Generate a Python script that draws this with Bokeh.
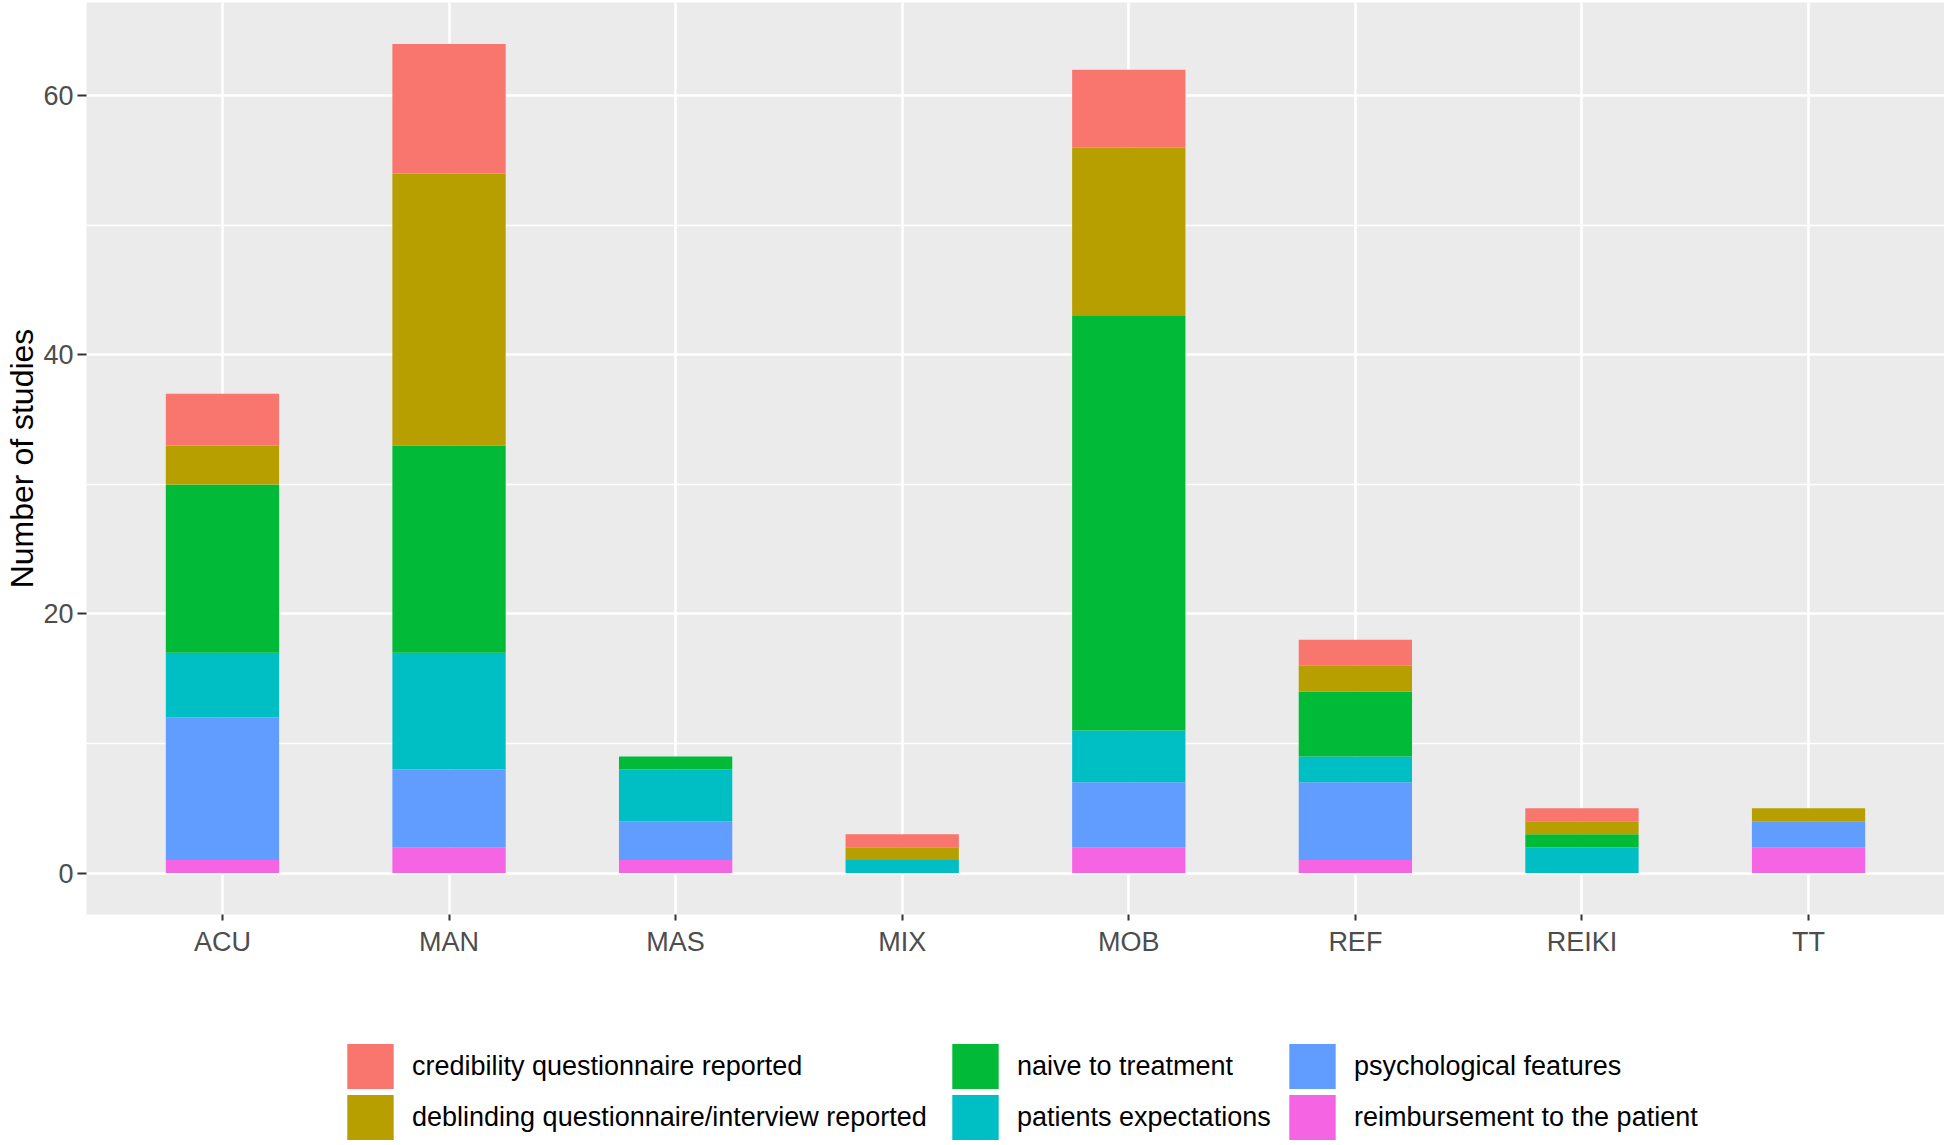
from bokeh.plotting import figure
from bokeh.layouts import column
from bokeh.models import Range1d, FactorRange, FixedTicker, Legend, LegendItem, ColumnDataSource
from bokeh.embed import file_html
from bokeh.resources import INLINE

# ---- data ----
categories = ["ACU", "MAN", "MAS", "MIX", "MOB", "REF", "REIKI", "TT"]
reimbursement = [1, 2, 1, 0, 2, 1, 0, 2]
psychological = [11, 6, 3, 0, 5, 6, 0, 2]
expectations = [5, 9, 4, 1, 4, 2, 2, 0]
naive = [13, 16, 1, 0, 32, 5, 1, 0]
deblinding = [3, 21, 0, 1, 13, 2, 1, 1]
credibility = [4, 10, 0, 1, 6, 2, 1, 0]

y_ticks = [0, 20, 40, 60]
y_minor = [10, 30, 50]

labels = {
    "credibility": "credibility questionnaire reported",
    "deblinding": "deblinding questionnaire/interview reported",
    "naive": "naive to treatment",
    "expectations": "patients expectations",
    "psychological": "psychological features",
    "reimbursement": "reimbursement to the patient",
}
colors = {
    "credibility": "#F8766D",
    "deblinding": "#B79F00",
    "naive": "#00BA38",
    "expectations": "#00BFC4",
    "psychological": "#619CFF",
    "reimbursement": "#F564E3",
}
stack_order = ["reimbursement", "psychological", "expectations", "naive", "deblinding", "credibility"]

source = ColumnDataSource(dict(
    cat=categories,
    reimbursement=reimbursement,
    psychological=psychological,
    expectations=expectations,
    naive=naive,
    deblinding=deblinding,
    credibility=credibility,
))

FONT = "Liberation Sans"
W = 1944
H_TOTAL = 1145
H_MAIN = 980
H_LEG = H_TOTAL - H_MAIN
FRAME_LEFT = 86
FRAME_TOP = 2
FRAME_BOTTOM = 914

x_range = FactorRange(factors=categories, range_padding=0.025, range_padding_units="percent")

p = figure(
    x_range=x_range,
    y_range=Range1d(-3.2, 67.2),
    width=W, height=H_MAIN,
    output_backend="svg", toolbar_location=None,
    min_border_left=FRAME_LEFT, min_border_right=0, min_border_top=FRAME_TOP,
    min_border_bottom=H_MAIN - FRAME_BOTTOM,
)

p.background_fill_color = "#EBEBEB"
p.border_fill_color = "white"
p.outline_line_color = None

p.vbar_stack(
    stack_order, x="cat", width=0.5, source=source,
    fill_color=[colors[k] for k in stack_order], line_color=None,
)

# grid
p.xgrid.grid_line_color = "white"
p.xgrid.grid_line_width = 2.6
p.ygrid.grid_line_color = "white"
p.ygrid.grid_line_width = 2.6
p.ygrid.minor_grid_line_color = "white"
p.ygrid.minor_grid_line_width = 1.3

# y axis
p.yaxis.ticker = FixedTicker(ticks=y_ticks, minor_ticks=y_minor)
p.yaxis.axis_line_color = None
p.yaxis.minor_tick_line_color = None
p.yaxis.major_tick_in = 0
p.yaxis.major_tick_out = 9
p.yaxis.major_tick_line_color = "#333333"
p.yaxis.major_tick_line_width = 2
p.yaxis.major_label_standoff = 4
p.yaxis.major_label_text_font = FONT
p.yaxis.major_label_text_font_size = "27px"
p.yaxis.major_label_text_color = "#4D4D4D"
p.yaxis.axis_label = "Number of studies"
p.yaxis.axis_label_text_font = FONT
p.yaxis.axis_label_text_font_size = "32px"
p.yaxis.axis_label_text_font_style = "normal"
p.yaxis.axis_label_text_color = "black"
p.yaxis.axis_label_standoff = 0

# x axis
p.xaxis.axis_line_color = None
p.xaxis.major_tick_in = 0
p.xaxis.major_tick_out = 6
p.xaxis.major_tick_line_color = "#333333"
p.xaxis.major_tick_line_width = 2
p.xaxis.major_label_standoff = 6
p.xaxis.major_label_text_font = FONT
p.xaxis.major_label_text_font_size = "27px"
p.xaxis.major_label_text_color = "#4D4D4D"

# ---- legend panel (separate figure below the chart) ----
q = figure(
    x_range=x_range, y_range=Range1d(0, 1),
    width=W, height=H_LEG,
    output_backend="svg", toolbar_location=None,
    x_axis_type=None, y_axis_type=None,
    min_border_left=0, min_border_right=0, min_border_top=0, min_border_bottom=0,
)
q.grid.visible = False
q.outline_line_color = None
q.background_fill_color = "white"
q.border_fill_color = "white"

# hidden copies of the series, used only as legend keys
key_renderers = {
    k: q.vbar(x="cat", top=k, width=0.5, source=source,
              fill_color=colors[k], line_color=None, visible=False)
    for k in stack_order
}

# legend grid: 3 columns x 2 rows (column-major, as in the original)
legend_cells = [
    ("credibility", 341, 51), ("deblinding", 341, 0),
    ("naive", 946, 51), ("expectations", 946, 0),
    ("psychological", 1283, 51), ("reimbursement", 1283, 0),
]
for key, xpos, ypos in legend_cells:
    leg = Legend(
        items=[LegendItem(label=labels[key], renderers=[key_renderers[key]])],
        location=(xpos - FRAME_LEFT, ypos),
        orientation="vertical",
        glyph_width=58, glyph_height=56, label_height=56,
        spacing=0, padding=0, margin=0,
        border_line_color=None, background_fill_alpha=0,
        inactive_fill_alpha=0,
        label_text_font=FONT, label_text_font_size="27px",
        label_text_color="black", label_standoff=13,
    )
    q.add_layout(leg, "center")

layout = column(p, q, spacing=0)
open("out.html", "w").write(file_html(layout, INLINE))
